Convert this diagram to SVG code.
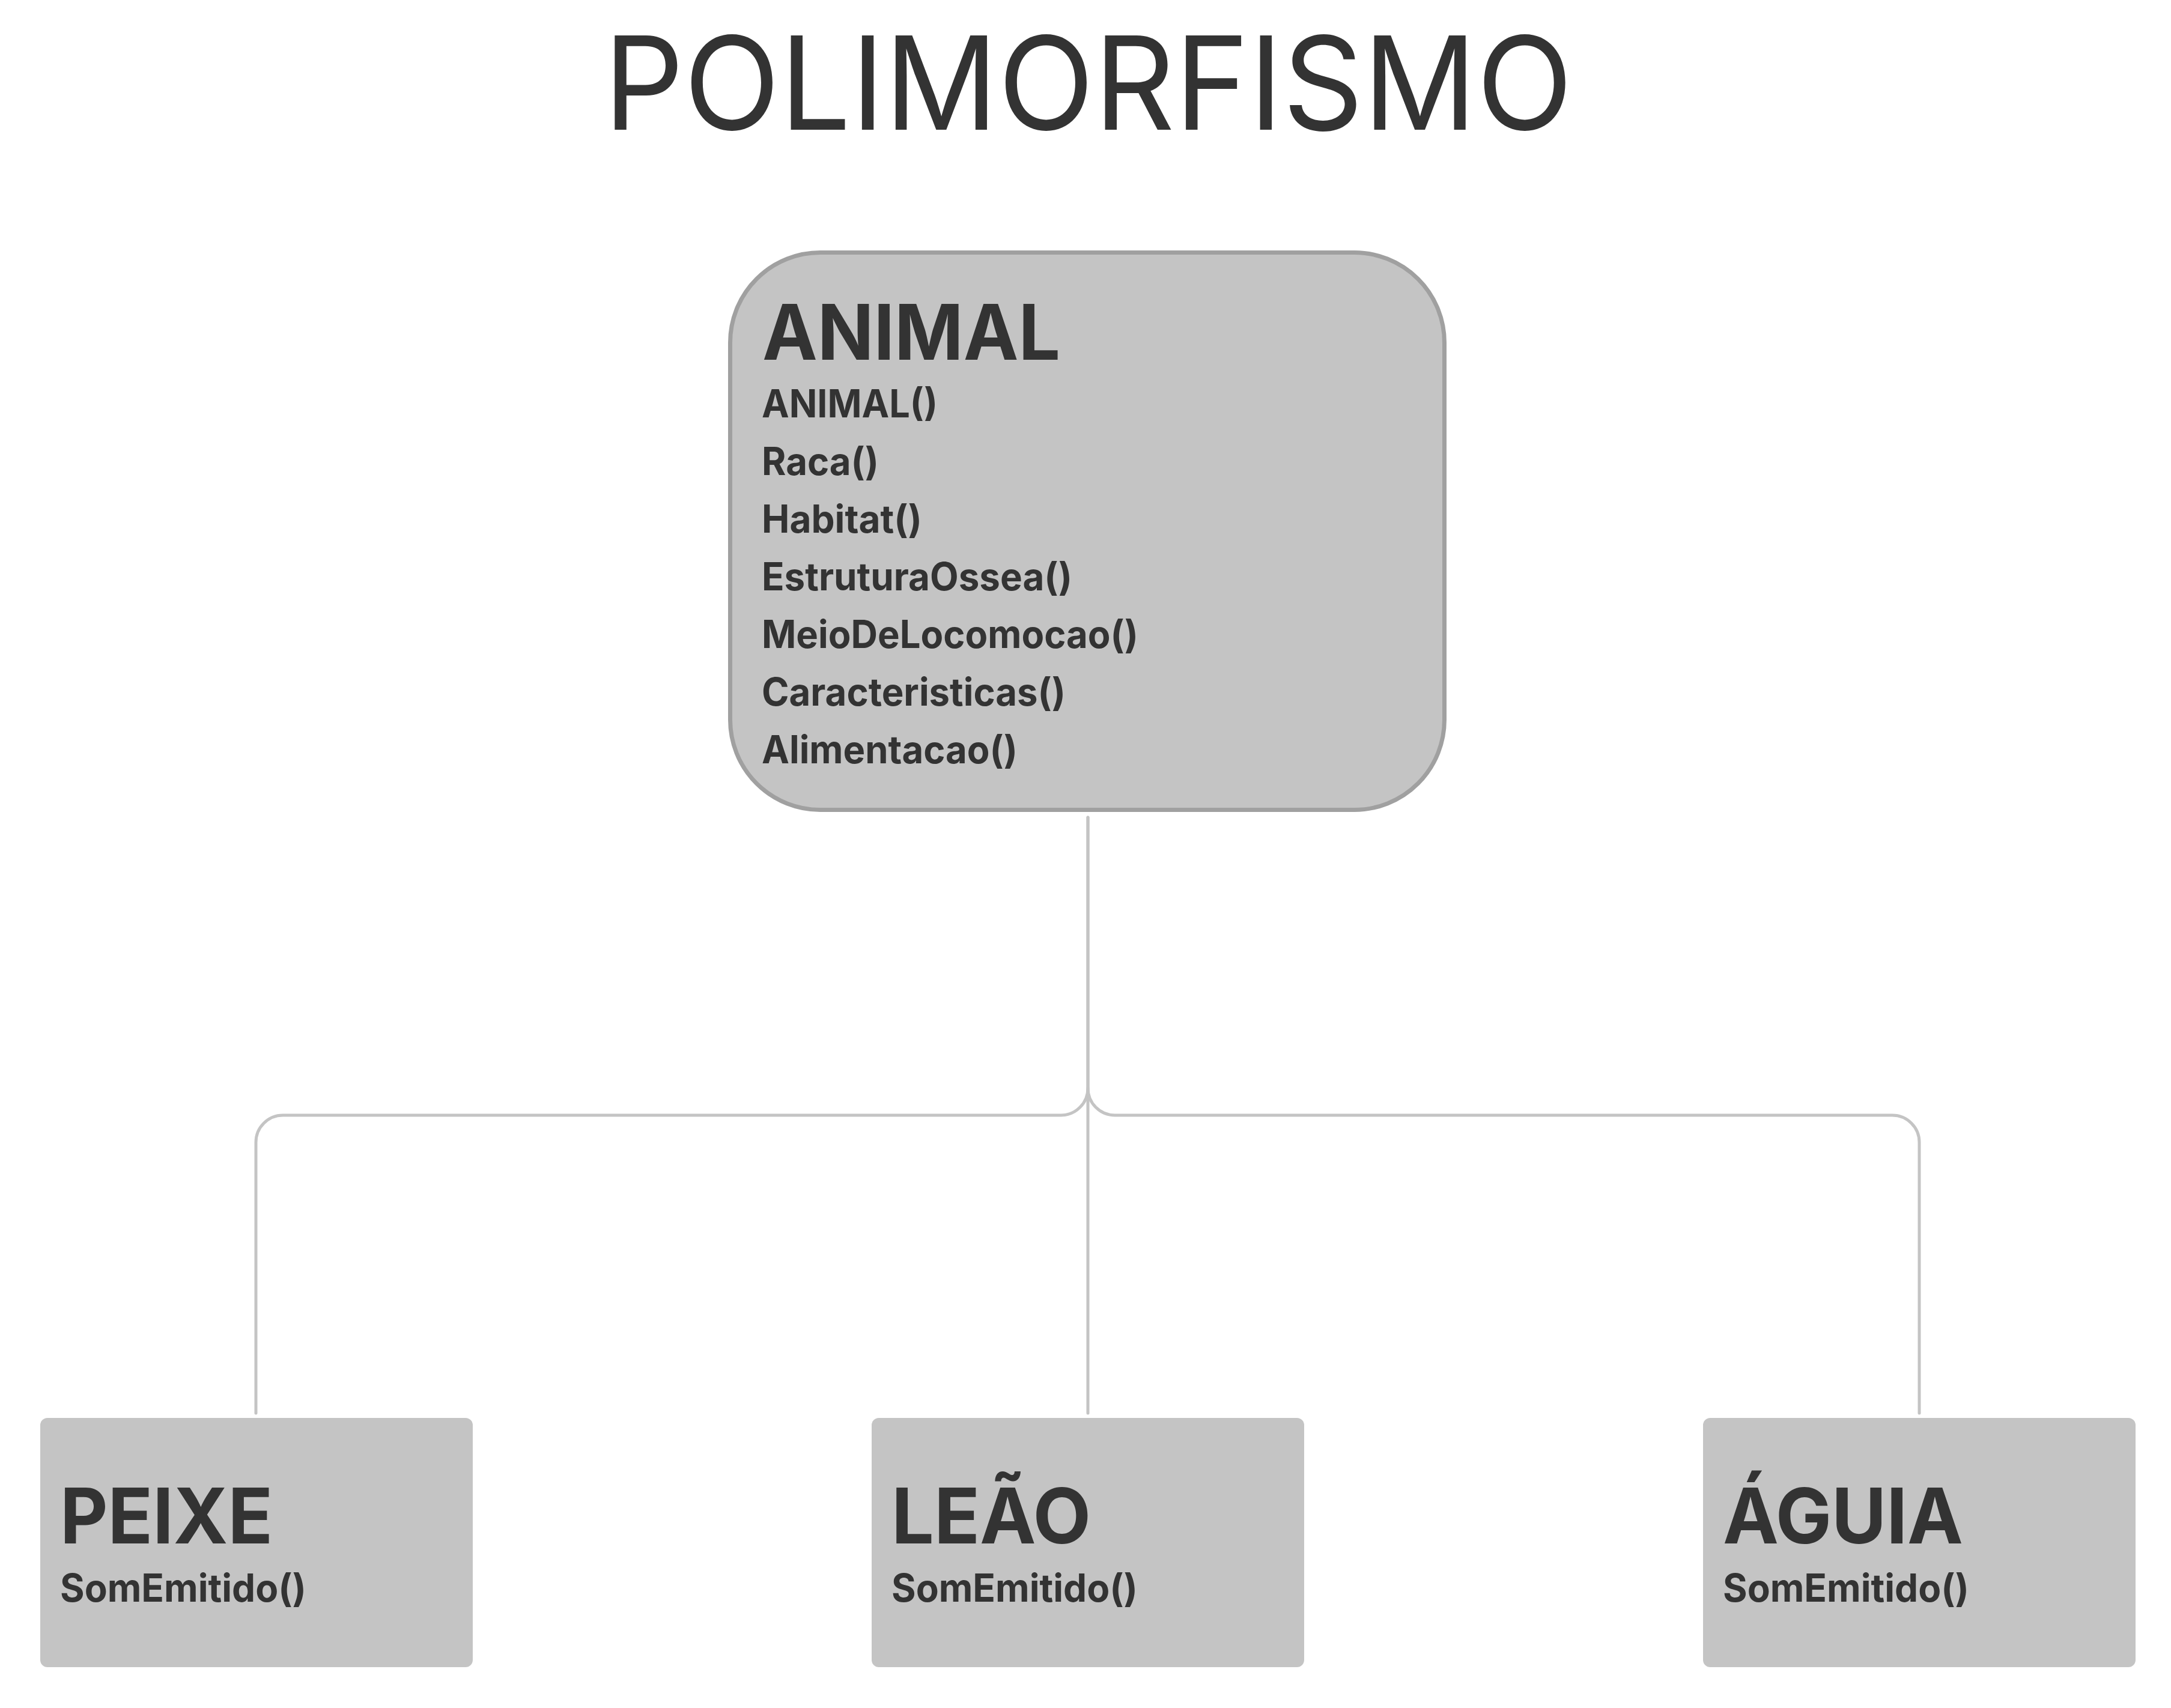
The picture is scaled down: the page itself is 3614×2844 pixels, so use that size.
<svg xmlns="http://www.w3.org/2000/svg" width="3614" height="2844" viewBox="0 0 3614 2844">
<style>
  .bg { fill: #ffffff; }
  .title { font-family: Inter, "Liberation Sans", sans-serif; font-size: 216px; font-weight: 400; fill: #333333; }
  .head { font-family: Inter, "Liberation Sans", sans-serif; font-size: 128px; font-weight: 700; fill: #333333; }
  .meth { font-family: Inter, "Liberation Sans", sans-serif; font-size: 64px; font-weight: 700; fill: #333333; }
  .parent { fill: #c4c4c4; stroke: #a0a0a0; stroke-width: 7; }
  .child { fill: #c4c4c4; }
  .conn { fill: none; stroke: #c4c4c4; stroke-width: 5; stroke-linecap: round; stroke-linejoin: round; }
</style>
<rect class="bg" x="0" y="0" width="3614" height="2844"/>
<text id="title" class="title" x="1005" y="216" textLength="1613" lengthAdjust="spacingAndGlyphs">POLIMORFISMO</text>
<g id="connectors">
  <path class="conn" d="M1811 1361 V2353"/>
  <path class="conn" d="M1811 1361 V1812 A45 45 0 0 1 1766 1857 H471 A45 45 0 0 0 426 1902 V2353"/>
  <path class="conn" d="M1811 1812 A45 45 0 0 0 1856 1857 H3150 A45 45 0 0 1 3195 1902 V2353"/>
</g>
<g id="animal">
  <rect class="parent" x="1215.5" y="420.5" width="1189" height="928" rx="150" ry="150"/>
  <text class="head" x="1269" y="599" textLength="496" lengthAdjust="spacingAndGlyphs">ANIMAL</text>
  <text class="meth" x="1268" y="695" textLength="293" lengthAdjust="spacingAndGlyphs">ANIMAL()</text>
  <text class="meth" x="1268" y="791" textLength="195" lengthAdjust="spacingAndGlyphs">Raca()</text>
  <text class="meth" x="1268" y="887" textLength="267" lengthAdjust="spacingAndGlyphs">Habitat()</text>
  <text class="meth" x="1268" y="983" textLength="517" lengthAdjust="spacingAndGlyphs">EstruturaOssea()</text>
  <text class="meth" x="1268" y="1079" textLength="627" lengthAdjust="spacingAndGlyphs">MeioDeLocomocao()</text>
  <text class="meth" x="1268" y="1175" textLength="506" lengthAdjust="spacingAndGlyphs">Caracteristicas()</text>
  <text class="meth" x="1268" y="1271" textLength="426" lengthAdjust="spacingAndGlyphs">Alimentacao()</text>
</g>
<g id="peixe">
  <rect class="child" x="67" y="2361" width="720" height="415" rx="12" ry="12"/>
  <text class="head" x="100" y="2570" textLength="354" lengthAdjust="spacingAndGlyphs">PEIXE</text>
  <text class="meth" x="100" y="2667" textLength="410" lengthAdjust="spacingAndGlyphs">SomEmitido()</text>
</g>
<g id="leao">
  <rect class="child" x="1451" y="2361" width="720" height="415" rx="12" ry="12"/>
  <text class="head" x="1484" y="2570" textLength="332" lengthAdjust="spacingAndGlyphs">LEÃO</text>
  <text class="meth" x="1484" y="2667" textLength="410" lengthAdjust="spacingAndGlyphs">SomEmitido()</text>
</g>
<g id="aguia">
  <rect class="child" x="2835" y="2361" width="720" height="415" rx="12" ry="12"/>
  <text class="head" x="2868" y="2570" textLength="400" lengthAdjust="spacingAndGlyphs">ÁGUIA</text>
  <text class="meth" x="2868" y="2667" textLength="410" lengthAdjust="spacingAndGlyphs">SomEmitido()</text>
</g>
</svg>
